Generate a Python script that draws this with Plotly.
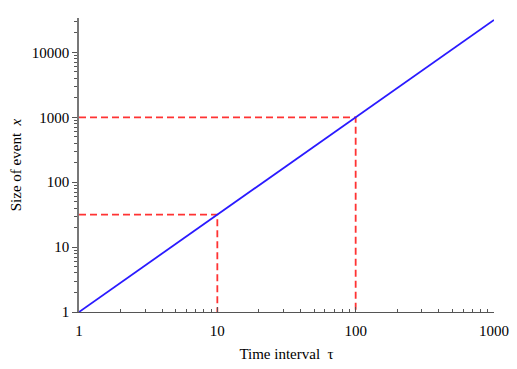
import numpy as np
import plotly.graph_objects as go

# data
tau = [1, 10, 100, 1000]
size = [1, 31.6228, 1000, 31622.8]
guide1_x = [1, 10, 10]
guide1_y = [31.6228, 31.6228, 1]
guide2_x = [1, 100, 100]
guide2_y = [1000, 1000, 1]
x_ticks = [1, 10, 100, 1000]
x_ticktext = ["1", "10", "100", "1000"]
y_ticks = [1, 10, 100, 1000, 10000]
y_ticktext = ["1", "10", "100", "1000", "10000"]

def minors(decades):
    out = []
    for d in decades:
        for m in range(2, 10):
            out.append(m * d)
    return out

fig = go.Figure()
fig.add_trace(go.Scatter(x=guide1_x, y=guide1_y, mode="lines",
                         line=dict(color="#ff3333", width=1.8, dash="7px,4px"), hoverinfo="skip"))
fig.add_trace(go.Scatter(x=guide2_x, y=guide2_y, mode="lines",
                         line=dict(color="#ff3333", width=1.8, dash="7px,4px"), hoverinfo="skip"))
fig.add_trace(go.Scatter(x=tau, y=size, mode="lines",
                         line=dict(color="#2a1aff", width=1.8)))

font = dict(family="Liberation Serif, Times New Roman, serif", size=15, color="black")
fig.update_layout(
    width=517, height=369,
    margin=dict(l=79, r=23, t=18, b=57),
    paper_bgcolor="white", plot_bgcolor="white",
    showlegend=False, font=font,
    xaxis=dict(type="log", range=[0, 3], tickvals=x_ticks, ticktext=x_ticktext,
               ticks="inside", ticklen=5, tickcolor="#555", showgrid=False, zeroline=False,
               showline=True, linecolor="#555", linewidth=1, automargin=False,
               ticklabelstandoff=5,
               minor=dict(tickvals=minors([1, 10, 100]), ticks="inside", ticklen=3, tickcolor="#555"),
               title=dict(text="Time interval  τ", font=font, standoff=10)),
    yaxis=dict(type="log", range=[0, 4.53], tickvals=y_ticks, ticktext=y_ticktext,
               ticks="outside", ticklen=5, tickcolor="#555", showgrid=False, zeroline=False,
               showline=True, linecolor="#777", linewidth=1.5, automargin=False,
               minor=dict(tickvals=minors([1, 10, 100, 1000, 10000]), ticks="outside", ticklen=3, tickcolor="#555"),
               title=dict(text="Size of event  <i>x</i>", font=font, standoff=7)),
)
fig.write_html("out.html", post_script="document.body.style.margin='0';",
               config={"displayModeBar": False})
